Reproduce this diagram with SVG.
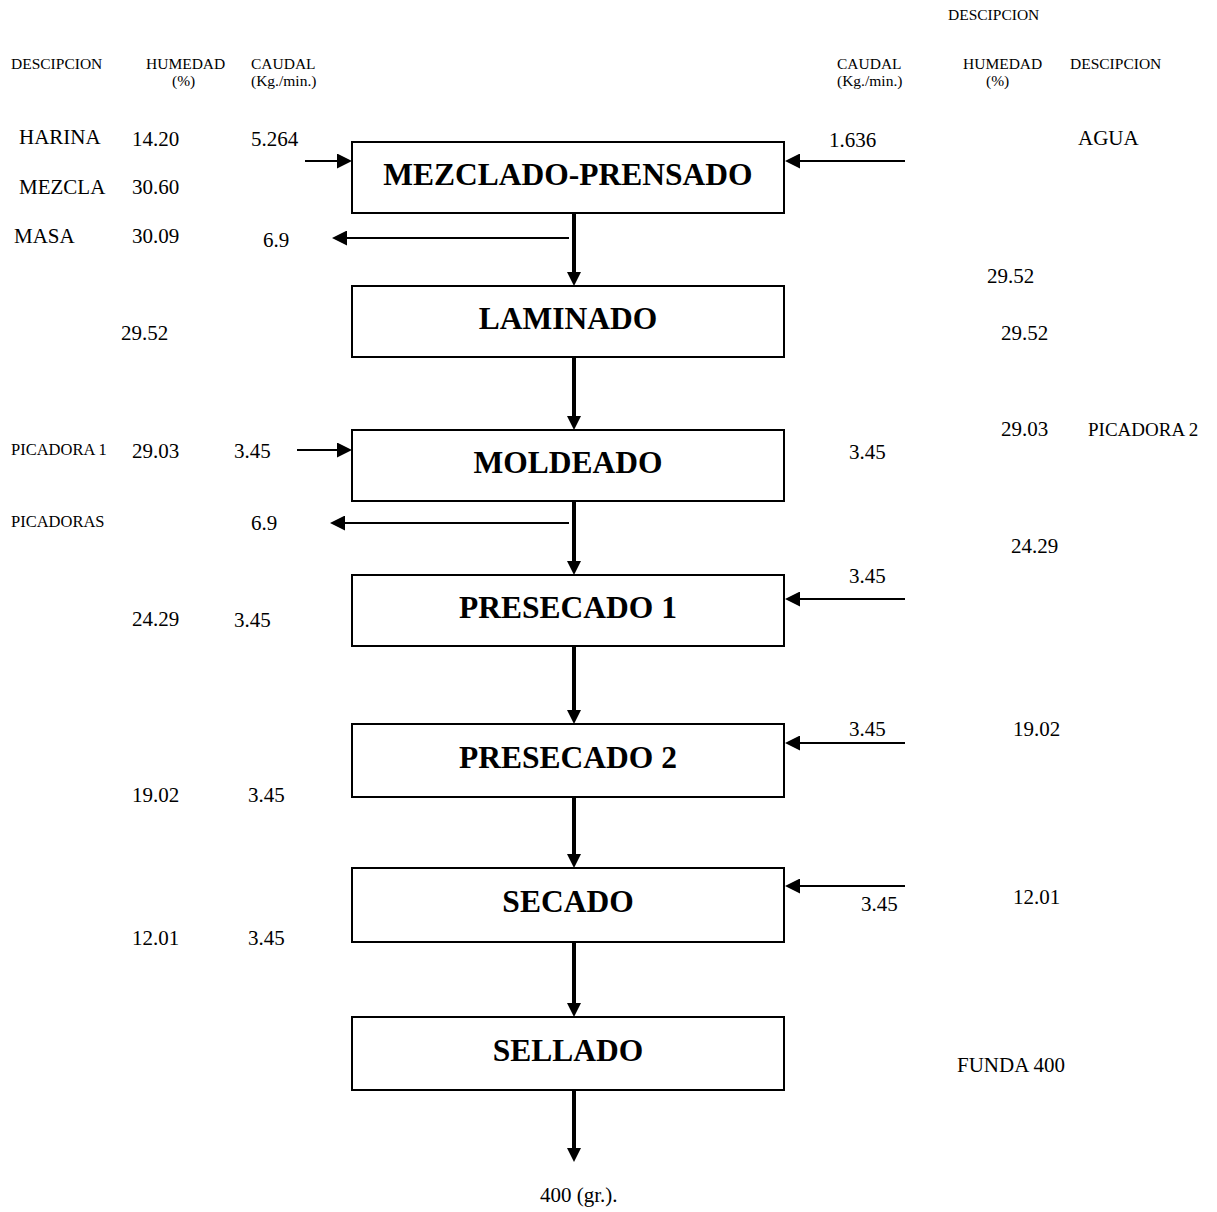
<svg xmlns="http://www.w3.org/2000/svg" width="1217" height="1212" viewBox="0 0 1217 1212">
  <style>
    text { font-family: "Liberation Serif", "Times New Roman", serif; fill: #000; }
    .hd { font-size: 15.5px; }
    .v { font-size: 21px; }
    .sm { font-size: 16.5px; }
    .lbl { font-size: 31.5px; font-weight: bold; text-anchor: middle; }
    .box { fill: #fff; stroke: #000; stroke-width: 2; }
    .flow { stroke: #000; stroke-width: 4; fill: none; marker-end: url(#headV); }
    .side { stroke: #000; stroke-width: 2; fill: none; marker-end: url(#headH); }
  </style>
  <defs>
    <marker id="headV" viewBox="0 0 14 14" refX="9" refY="7" markerWidth="14" markerHeight="14" markerUnits="userSpaceOnUse" orient="auto">
      <path d="M0,0 L14,7 L0,14 z" fill="#000"/>
    </marker>
    <marker id="headH" viewBox="0 0 15 15" refX="10" refY="7.5" markerWidth="15" markerHeight="15" markerUnits="userSpaceOnUse" orient="auto">
      <path d="M0,0 L15,7.5 L0,15 z" fill="#000"/>
    </marker>
  </defs>

  <rect width="1217" height="1212" fill="#fff"/>

  <!-- column headers -->
  <g id="headers">
    <text class="hd" x="948" y="20">DESCIPCION</text>
    <text class="hd" x="11" y="69">DESCIPCION</text>
    <text class="hd" x="146" y="69">HUMEDAD</text>
    <text class="hd" x="172" y="86">(%)</text>
    <text class="hd" x="251" y="69">CAUDAL</text>
    <text class="hd" x="251" y="86">(Kg./min.)</text>
    <text class="hd" x="837" y="69">CAUDAL</text>
    <text class="hd" x="837" y="86">(Kg./min.)</text>
    <text class="hd" x="963" y="69">HUMEDAD</text>
    <text class="hd" x="986" y="86">(%)</text>
    <text class="hd" x="1070" y="69">DESCIPCION</text>
  </g>

  <!-- process steps -->
  <g id="mezclado-prensado">
    <rect class="box" x="352" y="142" width="432" height="71"/>
    <text class="lbl" x="568" y="185">MEZCLADO-PRENSADO</text>
  </g>
  <g id="laminado">
    <rect class="box" x="352" y="286" width="432" height="71"/>
    <text class="lbl" x="568" y="329">LAMINADO</text>
  </g>
  <g id="moldeado">
    <rect class="box" x="352" y="430" width="432" height="71"/>
    <text class="lbl" x="568" y="473">MOLDEADO</text>
  </g>
  <g id="presecado-1">
    <rect class="box" x="352" y="575" width="432" height="71"/>
    <text class="lbl" x="568" y="618">PRESECADO 1</text>
  </g>
  <g id="presecado-2">
    <rect class="box" x="352" y="724" width="432" height="73"/>
    <text class="lbl" x="568" y="768">PRESECADO 2</text>
  </g>
  <g id="secado">
    <rect class="box" x="352" y="868" width="432" height="74"/>
    <text class="lbl" x="568" y="912">SECADO</text>
  </g>
  <g id="sellado">
    <rect class="box" x="352" y="1017" width="432" height="73"/>
    <text class="lbl" x="568" y="1061">SELLADO</text>
  </g>

  <!-- connectors -->
  <g id="connectors">
    <line class="flow" x1="574" y1="213" x2="574" y2="281"/>
    <line class="flow" x1="574" y1="357" x2="574" y2="425"/>
    <line class="flow" x1="574" y1="501" x2="574" y2="570"/>
    <line class="flow" x1="574" y1="646" x2="574" y2="719"/>
    <line class="flow" x1="574" y1="797" x2="574" y2="863"/>
    <line class="flow" x1="574" y1="942" x2="574" y2="1012"/>
    <line class="flow" x1="574" y1="1090" x2="574" y2="1157"/>

    <line class="side" x1="305" y1="161" x2="347" y2="161"/>
    <line class="side" x1="905" y1="161" x2="790" y2="161"/>
    <line class="side" x1="569" y1="238" x2="337" y2="238"/>
    <line class="side" x1="297" y1="450" x2="347" y2="450"/>
    <line class="side" x1="569" y1="523" x2="335" y2="523"/>
    <line class="side" x1="905" y1="599" x2="790" y2="599"/>
    <line class="side" x1="905" y1="743" x2="790" y2="743"/>
    <line class="side" x1="905" y1="886" x2="790" y2="886"/>
  </g>

  <!-- stream data -->
  <g id="values">
    <text class="v" x="19" y="144">HARINA</text>
    <text class="v" x="132" y="146">14.20</text>
    <text class="v" x="251" y="146">5.264</text>
    <text class="v" x="829" y="147">1.636</text>
    <text class="v" x="1078" y="145">AGUA</text>
    <text class="v" x="19" y="194">MEZCLA</text>
    <text class="v" x="132" y="194">30.60</text>
    <text class="v" x="14" y="243">MASA</text>
    <text class="v" x="132" y="243">30.09</text>
    <text class="v" x="263" y="247">6.9</text>
    <text class="v" x="987" y="283">29.52</text>
    <text class="v" x="121" y="340">29.52</text>
    <text class="v" x="1001" y="340">29.52</text>
    <text class="v" x="1001" y="436">29.03</text>
    <text class="v" x="1088" y="436" style="font-size:19px">PICADORA 2</text>
    <text class="sm" x="11" y="455">PICADORA 1</text>
    <text class="v" x="132" y="458">29.03</text>
    <text class="v" x="234" y="458">3.45</text>
    <text class="v" x="849" y="459">3.45</text>
    <text class="sm" x="11" y="527">PICADORAS</text>
    <text class="v" x="251" y="530">6.9</text>
    <text class="v" x="1011" y="553">24.29</text>
    <text class="v" x="849" y="583">3.45</text>
    <text class="v" x="132" y="626">24.29</text>
    <text class="v" x="234" y="627">3.45</text>
    <text class="v" x="849" y="736">3.45</text>
    <text class="v" x="1013" y="736">19.02</text>
    <text class="v" x="132" y="802">19.02</text>
    <text class="v" x="248" y="802">3.45</text>
    <text class="v" x="861" y="911">3.45</text>
    <text class="v" x="1013" y="904">12.01</text>
    <text class="v" x="132" y="945">12.01</text>
    <text class="v" x="248" y="945">3.45</text>
    <text class="v" x="957" y="1072">FUNDA 400</text>
    <text class="v" x="540" y="1202">400 (gr.).</text>
  </g>
</svg>
